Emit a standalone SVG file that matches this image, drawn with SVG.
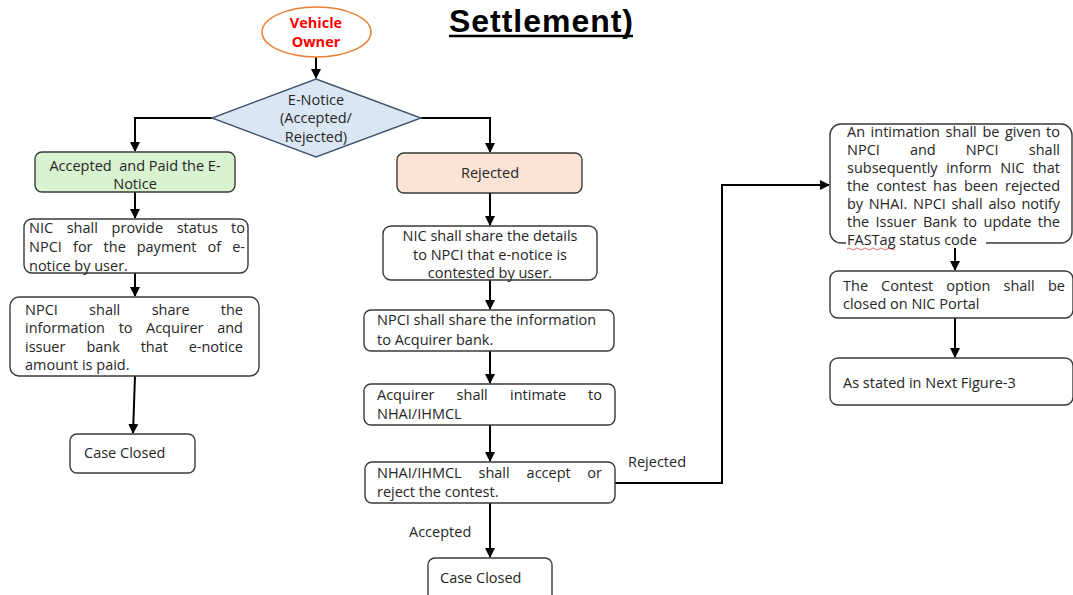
<svg xmlns="http://www.w3.org/2000/svg" width="1073" height="595" viewBox="0 0 1073 595">
<style>
.t{font-family:"Open Sans","Liberation Sans",sans-serif;font-size:14.5px;fill:#262626}
.c{text-anchor:middle}
.e{text-anchor:end}
.box{fill:#fff;stroke:#3a3a3a;stroke-width:1.4}
.ln{fill:none;stroke:#000;stroke-width:2}
</style>
<defs>
<marker id="ah" viewBox="0 0 10 10" refX="9" refY="5" markerWidth="5" markerHeight="5" orient="auto" markerUnits="strokeWidth">
<path d="M0,0 L10,5 L0,10 z" fill="#000"/>
</marker>
</defs>
<rect width="1073" height="595" fill="#fff"/>

<g id="title">
<text x="449" y="32" font-family="'Liberation Sans',Arial,sans-serif" font-weight="bold" font-size="32" textLength="184" fill="#000">Settlement)</text>
<line x1="449" y1="36" x2="633" y2="36" stroke="#000" stroke-width="2.5"/>
</g>

<g id="connectors">
<line class="ln" x1="316" y1="57" x2="316" y2="78" marker-end="url(#ah)"/>
<polyline class="ln" points="212,118 135,118 135,151" marker-end="url(#ah)"/>
<polyline class="ln" points="421,118 490,118 490,152" marker-end="url(#ah)"/>
<line class="ln" x1="135" y1="192" x2="135" y2="218" marker-end="url(#ah)"/>
<line class="ln" x1="135" y1="273" x2="135" y2="296" marker-end="url(#ah)"/>
<line class="ln" x1="135" y1="376" x2="133" y2="433" marker-end="url(#ah)"/>
<line class="ln" x1="490" y1="193" x2="490" y2="225" marker-end="url(#ah)"/>
<line class="ln" x1="490" y1="280" x2="490" y2="309" marker-end="url(#ah)"/>
<line class="ln" x1="490" y1="351" x2="490" y2="383" marker-end="url(#ah)"/>
<line class="ln" x1="490" y1="425" x2="490" y2="461" marker-end="url(#ah)"/>
<line class="ln" x1="490" y1="503" x2="490" y2="557" marker-end="url(#ah)"/>
<polyline class="ln" points="615,483 722,483 722,185 829,185" marker-end="url(#ah)"/>
<line class="ln" x1="955" y1="244" x2="955" y2="270" marker-end="url(#ah)"/>
<line class="ln" x1="955" y1="318" x2="955" y2="357" marker-end="url(#ah)"/>
<text class="t" x="628" y="467">Rejected</text>
<text class="t" x="409" y="537">Accepted</text>
</g>

<g id="vehicle-owner">
<ellipse cx="316.5" cy="32" rx="54.5" ry="25" fill="#fff" stroke="#ED7D31" stroke-width="1.5"/>
<text class="t c" x="316" y="28" font-weight="bold" font-size="14" style="fill:#FF0000">Vehicle</text>
<text class="t c" x="316" y="47" font-weight="bold" font-size="14" style="fill:#FF0000">Owner</text>
</g>

<g id="enotice">
<polygon points="316,79 421,118 316,157 212,118" fill="#DAE6F4" stroke="#44546A" stroke-width="1.4"/>
<text class="t c" x="316" y="105">E-Notice</text>
<text class="t c" x="316" y="123">(Accepted/</text>
<text class="t c" x="316" y="142">Rejected)</text>
</g>

<g id="accepted">
<rect x="35" y="152" width="200" height="40" rx="7" fill="#D9F2D0" stroke="#3a3a3a" stroke-width="1.4"/>
<text class="t c" x="135" y="171" xml:space="preserve">Accepted  and Paid the E-</text>
<text class="t c" x="135" y="189">Notice</text>
</g>

<g id="nic-status">
<rect class="box" x="24" y="219" width="224" height="54" rx="8"/>
<text class="t" y="233"><tspan x="29">NIC</tspan><tspan x="66.7">shall</tspan><tspan x="111.6">provide</tspan><tspan x="176.7">status</tspan><tspan class="e" x="245">to</tspan></text>
<text class="t" y="252"><tspan x="29">NPCI</tspan><tspan x="73">for</tspan><tspan x="103.6">the</tspan><tspan x="136.7">payment</tspan><tspan x="207.6">of</tspan><tspan class="e" x="245">e-</tspan></text>
<text class="t" x="29" y="271">notice by user.</text>
</g>

<g id="npci-share-left">
<rect class="box" x="10" y="297" width="249" height="79" rx="9"/>
<text class="t" y="315"><tspan x="25">NPCI</tspan><tspan x="89.1">shall</tspan><tspan x="151.7">share</tspan><tspan class="e" x="243">the</tspan></text>
<text class="t" y="333"><tspan x="25">information</tspan><tspan x="118.7">to</tspan><tspan x="146">Acquirer</tspan><tspan class="e" x="243">and</tspan></text>
<text class="t" y="352"><tspan x="25">issuer</tspan><tspan x="86.4">bank</tspan><tspan x="140.7">that</tspan><tspan class="e" x="243">e-notice</tspan></text>
<text class="t" x="25" y="370">amount is paid.</text>
</g>

<g id="case-closed-left">
<rect class="box" x="70" y="434" width="125" height="39" rx="7"/>
<text class="t" x="84" y="458">Case Closed</text>
</g>

<g id="rejected">
<rect x="397" y="153" width="185" height="40" rx="7" fill="#FBE3D6" stroke="#3a3a3a" stroke-width="1.4"/>
<text class="t c" x="490" y="178">Rejected</text>
</g>

<g id="nic-share">
<rect class="box" x="383" y="226" width="214" height="54" rx="8"/>
<text class="t c" x="490" y="241">NIC shall share the details</text>
<text class="t c" x="490" y="260">to NPCI that e-notice is</text>
<text class="t c" x="490" y="278">contested by user.</text>
</g>

<g id="npci-share-mid">
<rect class="box" x="364" y="310" width="250" height="41" rx="7"/>
<text class="t" x="377" y="325">NPCI shall share the information</text>
<text class="t" x="377" y="345">to Acquirer bank.</text>
</g>

<g id="acquirer">
<rect class="box" x="364" y="384" width="251" height="41" rx="7"/>
<text class="t" y="400"><tspan x="377">Acquirer</tspan><tspan x="456.6">shall</tspan><tspan x="510">intimate</tspan><tspan class="e" x="602">to</tspan></text>
<text class="t" x="377" y="419">NHAI/IHMCL</text>
</g>

<g id="nhai">
<rect class="box" x="365" y="462" width="250" height="41" rx="7"/>
<text class="t" y="478"><tspan x="377">NHAI/IHMCL</tspan><tspan x="478.5">shall</tspan><tspan x="526.6">accept</tspan><tspan class="e" x="602">or</tspan></text>
<text class="t" x="377" y="497">reject the contest.</text>
</g>

<g id="case-closed-mid">
<rect class="box" x="428" y="558" width="124" height="45" rx="7"/>
<text class="t" x="440" y="583">Case Closed</text>
</g>

<g id="intimation">
<rect class="box" x="830" y="124" width="242" height="119" rx="11"/>
<text class="t" y="137"><tspan x="847">An</tspan><tspan x="870.6">intimation</tspan><tspan x="945.6">shall</tspan><tspan x="982.5">be</tspan><tspan x="1005">given</tspan><tspan class="e" x="1060">to</tspan></text>
<text class="t" y="155"><tspan x="847">NPCI</tspan><tspan x="909.9">and</tspan><tspan x="965.7">NPCI</tspan><tspan class="e" x="1060">shall</tspan></text>
<text class="t" y="173"><tspan x="847">subsequently</tspan><tspan x="946.2">inform</tspan><tspan x="1000.3">NIC</tspan><tspan class="e" x="1060">that</tspan></text>
<text class="t" y="191"><tspan x="847">the</tspan><tspan x="876.2">contest</tspan><tspan x="933">has</tspan><tspan x="964">been</tspan><tspan class="e" x="1060">rejected</tspan></text>
<text class="t" y="209"><tspan x="847">by</tspan><tspan x="868.7">NHAI.</tspan><tspan x="913">NPCI</tspan><tspan x="951.4">shall</tspan><tspan x="988.4">also</tspan><tspan class="e" x="1060">notify</tspan></text>
<text class="t" y="227"><tspan x="847">the</tspan><tspan x="875.5">Issuer</tspan><tspan x="922.9">Bank</tspan><tspan x="963.2">to</tspan><tspan x="983.5">update</tspan><tspan class="e" x="1060">the</tspan></text>
<rect x="846" y="234" width="140" height="14" fill="#fff"/>
<text class="t" x="847" y="245">FASTag status code</text>
<path d="M847,249 q2,-2 4,0 t4,0 t4,0 t4,0 t4,0 t4,0 t4,0 t4,0 t4,0 t4,0 t4,0 t4,0" fill="none" stroke="#E04040" stroke-width="0.8"/>
</g>

<g id="contest-closed">
<rect class="box" x="830" y="271" width="243" height="47" rx="8"/>
<text class="t" y="291"><tspan x="843">The</tspan><tspan x="881.1">Contest</tspan><tspan x="946.3">option</tspan><tspan x="1003.5">shall</tspan><tspan class="e" x="1065">be</tspan></text>
<text class="t" x="843" y="309">closed on NIC Portal</text>
</g>

<g id="next-figure">
<rect class="box" x="830" y="358" width="243" height="47" rx="8"/>
<text class="t" x="843" y="388">As stated in Next Figure-3</text>
</g>
</svg>
